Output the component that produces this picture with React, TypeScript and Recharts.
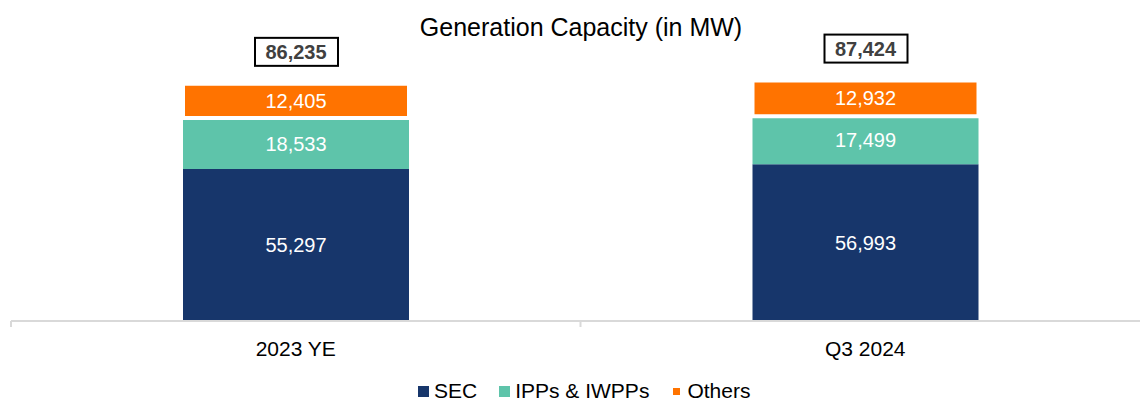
import { BarChart, Bar, XAxis, YAxis, LabelList } from "recharts";

const categories = ["2023 YE", "Q3 2024"];
const sec = [55297, 56993];
const ipps = [18533, 17499];
const others = [12405, 12932];
const totals = [86235, 87424];

const series = [
  { key: "sec", name: "SEC", color: "#17366B" },
  { key: "ipps", name: "IPPs & IWPPs", color: "#5EC4AA" },
  { key: "others", name: "Others", color: "#FF7300" },
];

const data = categories.map((c, i) => ({
  name: c,
  sec: sec[i],
  ipps: ipps[i],
  others: others[i],
  total: totals[i],
}));

const FONT = "'Liberation Sans', Arial, sans-serif";
const W = 1150;
const H = 403;
const MARGIN = { top: 46, right: 0, left: 11, bottom: 52 };
const AXIS_Y = 321;
const BAND = (W - MARGIN.left - MARGIN.right) / categories.length;

const fmt = (v: any) => Number(v).toLocaleString("en-US");

const Tick = (props: any) => {
  const { x, payload } = props;
  return (
    <g>
      <line x1={x - BAND / 2} x2={x - BAND / 2} y1={AXIS_Y} y2={AXIS_Y + 6} stroke="#d9d9d9" strokeWidth={2} />
      <text x={x} y={AXIS_Y + 35} textAnchor="middle" fontSize={21} fontFamily={FONT} fill="#000">
        {payload.value}
      </text>
    </g>
  );
};

const TotalLabel = (props: any) => {
  const { x, y, width, value } = props;
  const cx = x + width / 2;
  const cy = y - 32;
  return (
    <g>
      <rect x={cx - 41} y={cy - 14} width={83} height={28} fill="#fff" stroke="#000" strokeWidth={2} />
      <text x={cx} y={cy + 7} textAnchor="middle" fontSize={20} fontWeight="bold" fontFamily={FONT} fill="#404040">
        {fmt(value)}
      </text>
    </g>
  );
};

export default function App() {
  return (
    <div style={{ position: "absolute", left: 0, top: 0, width: 1140, height: H, overflow: "hidden", background: "#fff", fontFamily: FONT }}>
      <div style={{ position: "absolute", left: 581, top: 13, transform: "translateX(-50%)", fontSize: 25, whiteSpace: "nowrap", color: "#000" }}>
        Generation Capacity (in MW)
      </div>
      <BarChart width={W} height={H} data={data} margin={MARGIN} barSize={226}>
        <YAxis hide domain={[0, 100000]} />
        <XAxis
          dataKey="name"
          axisLine={{ stroke: "#d9d9d9", strokeWidth: 2 }}
          tickLine={false}
          tick={<Tick />}
          interval={0}
        />
        <Bar dataKey="sec" stackId="a" fill={series[0].color} isAnimationActive={false}>
          <LabelList dataKey="sec" position="center" fill="#fff" fontSize={20} fontFamily={FONT} formatter={fmt} />
        </Bar>
        <Bar dataKey="ipps" stackId="a" fill={series[1].color} isAnimationActive={false}>
          <LabelList dataKey="ipps" position="center" fill="#fff" fontSize={20} fontFamily={FONT} formatter={fmt} />
        </Bar>
        <Bar dataKey="others" stackId="a" fill={series[2].color} stroke="#fff" strokeWidth={4} isAnimationActive={false}>
          <LabelList dataKey="others" position="center" fill="#fff" fontSize={20} fontFamily={FONT} formatter={fmt} />
          <LabelList dataKey="total" content={<TotalLabel />} />
        </Bar>
      </BarChart>
      <div style={{ position: "absolute", left: 418, top: 379, display: "flex", alignItems: "center", fontSize: 21, lineHeight: "24px", color: "#000", whiteSpace: "nowrap" }}>
        {series.map((s) => (
          <div key={s.key} style={{ display: "flex", alignItems: "center", marginRight: 22 }}>
            <span
              style={{
                display: "inline-block",
                width: 11,
                height: 11,
                boxSizing: "border-box",
                background: s.color,
                border: s.key === "others" ? "2px solid #fff" : "none",
                marginRight: 5,
              }}
            />
            <span>{s.name}</span>
          </div>
        ))}
      </div>
    </div>
  );
}
